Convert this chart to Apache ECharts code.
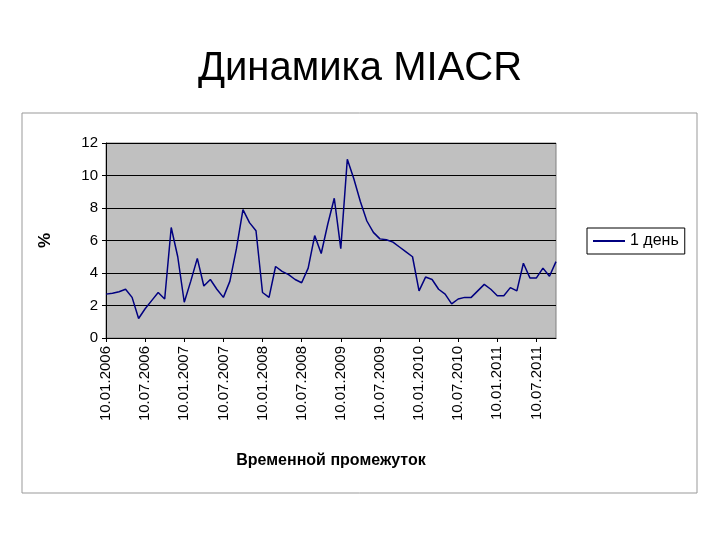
<!DOCTYPE html>
<html style="height: 100%">
<head><meta charset="utf-8"></head>
<body style="height: 100%; margin: 0; background: #fff">
<div id="container" style="width: 720px; height: 540px"></div>
<script src="https://cdn.jsdelivr.net/npm/echarts@6/dist/echarts.min.js"></script>
<script>
// monthly dates, Jan 2006 .. Oct 2011
var months = [];
for (var y = 2006; y <= 2011; y++) {
    for (var m = 1; m <= 12; m++) {
        if (y === 2011 && m > 10) break;
        months.push('10.' + (m < 10 ? '0' + m : m) + '.' + y);
    }
}
var rate1d = [
    2.7, 2.75, 2.85, 3.0, 2.5, 1.2, 1.8, 2.3, 2.8, 2.4, 6.8, 5.0,
    2.2, 3.5, 4.9, 3.2, 3.6, 3.0, 2.5, 3.5, 5.5, 7.9, 7.1, 6.6,
    2.8, 2.5, 4.4, 4.1, 3.9, 3.6, 3.4, 4.3, 6.3, 5.2, 7.0, 8.6,
    5.5, 11.0, 9.8, 8.4, 7.2, 6.5, 6.1, 6.05, 5.9, 5.6, 5.3, 5.0,
    2.9, 3.75, 3.6, 3.0, 2.7, 2.1, 2.4, 2.5, 2.5, 2.9, 3.3, 3.0,
    2.6, 2.6, 3.1, 2.9, 4.6, 3.7, 3.7, 4.3, 3.8, 4.7
];

var chart = echarts.init(document.getElementById('container'));
var font = 'Liberation Sans, Arial, sans-serif';
chart.setOption({
    animation: false,
    title: {
        text: 'Динамика MIACR',
        left: 'center',
        top: 44,
        textStyle: {fontFamily: font, fontSize: 40, fontWeight: 'normal', color: '#000'}
    },
    graphic: [{
        type: 'rect',
        shape: {x: 22, y: 113, width: 675, height: 380},
        style: {fill: 'none', stroke: '#999', lineWidth: 1},
        z: -1
    }],
    legend: {
        left: 587,
        top: 228,
        orient: 'horizontal',
        borderColor: '#000',
        borderWidth: 1,
        padding: [5, 6],
        itemWidth: 32,
        itemHeight: 2,
        icon: 'rect',
        textStyle: {fontFamily: font, fontSize: 16, color: '#000', rotate: 0}
    },
    grid: {left: 106, right: 164, top: 143, bottom: 202, show: true,
           backgroundColor: '#c0c0c0', borderColor: '#808080', borderWidth: 1},
    xAxis: {
        type: 'category',
        data: months,
        boundaryGap: false,
        name: 'Временной промежуток',
        nameLocation: 'middle',
        nameGap: 115,
        nameTextStyle: {fontFamily: font, fontSize: 16, fontWeight: 'bold', color: '#000'},
        axisLine: {lineStyle: {color: '#000'}},
        axisTick: {interval: 5, length: 4, lineStyle: {color: '#000'}},
        axisLabel: {interval: 5, rotate: 90, fontFamily: font, fontSize: 15, color: '#000'}
    },
    yAxis: {
        type: 'value',
        min: 0, max: 12, interval: 2,
        name: '%',
        nameLocation: 'middle',
        nameRotate: 90,
        nameGap: 52,
        nameTextStyle: {fontFamily: font, fontSize: 17, fontWeight: 'bold', color: '#000'},
        axisLine: {show: true, lineStyle: {color: '#000'}},
        axisTick: {show: true, length: 4, lineStyle: {color: '#000'}},
        axisLabel: {fontFamily: font, fontSize: 15, color: '#000'},
        splitLine: {lineStyle: {color: '#000', width: 1}}
    },
    series: [{
        name: '1 день',
        type: 'line',
        data: rate1d,
        symbol: 'none',
        lineStyle: {color: '#000080', width: 1.5},
        itemStyle: {color: '#000080'}
    }]
});
</script>
</body>
</html>
